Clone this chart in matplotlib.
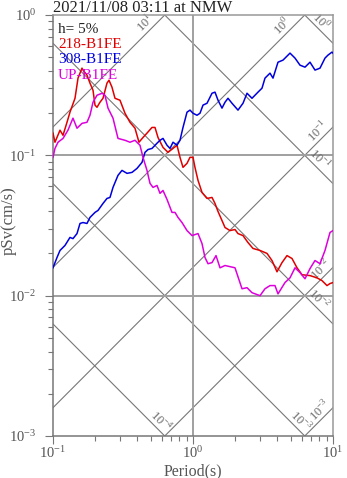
import numpy as np
import matplotlib
matplotlib.use('Agg')
import matplotlib.pyplot as plt

plt.rcParams['font.family'] = 'serif'
plt.rcParams['font.serif'] = ['Liberation Serif', 'DejaVu Serif']
plt.rcParams['mathtext.fontset'] = 'custom'
plt.rcParams['mathtext.rm'] = 'Liberation Serif'

TITLE = '2021/11/08 03:11 at NMW'
DAMPING = 'h= 5%'
NAMES = ['218-B1FE', '308-B1FE', 'UP-B1FE']
COLORS = ['#e00000', '#0000dd', '#dd00dd']

# 218-B1FE
t_218 = [0.100, 0.1033, 0.1122, 0.1179, 0.1259, 0.1322, 0.1436, 0.1509, 0.1611, 0.1638,
         0.1749, 0.1837, 0.1931, 0.1995, 0.2062, 0.2166, 0.2276, 0.2430, 0.2512, 0.2638,
         0.2772, 0.3010, 0.3267, 0.3548, 0.3852, 0.4113, 0.4393, 0.4692, 0.5094, 0.5353,
         0.5623, 0.6105, 0.6629, 0.7197, 0.7686, 0.8074, 0.8483, 0.9061, 0.9519, 1.000,
         1.033, 1.086, 1.160, 1.259, 1.367, 1.436, 1.509, 1.611, 1.693, 1.838,
         1.995, 2.096, 2.276, 2.471, 2.683, 3.010, 3.378, 3.667, 3.981, 4.322,
         4.693, 5.095, 5.533, 6.005, 6.851, 7.688, 8.346, 9.061, 9.519, 10.0]
sv_218 = [0.144, 0.124, 0.151, 0.139, 0.172, 0.203, 0.255, 0.355, 0.418, 0.405,
          0.373, 0.327, 0.291, 0.228, 0.220, 0.239, 0.255, 0.327, 0.343, 0.306,
          0.255, 0.247, 0.1995, 0.172, 0.156, 0.124, 0.134, 0.144, 0.158, 0.158,
          0.134, 0.114, 0.105, 0.112, 0.118, 0.0968, 0.0821, 0.0877, 0.0968, 0.0968,
          0.0821, 0.0663, 0.0544, 0.0493, 0.0501, 0.0454, 0.0398, 0.0343, 0.0306, 0.0291,
          0.0296, 0.0277, 0.0268, 0.0239, 0.0217, 0.0210, 0.0200, 0.0178, 0.0148, 0.0172,
          0.0193, 0.0184, 0.0158, 0.0141, 0.0139, 0.0134, 0.0128, 0.0118, 0.0122, 0.0124]

# 308-B1FE
t_308 = [0.100, 0.1068, 0.1122, 0.1218, 0.1322, 0.1389, 0.1484, 0.1559, 0.1638, 0.1749,
         0.1837, 0.1995, 0.2097, 0.2276, 0.2430, 0.2553, 0.2683, 0.2912, 0.3110, 0.3378,
         0.3667, 0.3981, 0.4322, 0.4540, 0.4772, 0.5094, 0.5533, 0.5811, 0.6105, 0.6522,
         0.6851, 0.7197, 0.7686, 0.8074, 0.8483, 0.9061, 0.9519, 1.000, 1.068, 1.122,
         1.179, 1.259, 1.367, 1.436, 1.509, 1.611, 1.693, 1.778, 1.899, 2.096,
         2.276, 2.431, 2.639, 2.912, 3.111, 3.268, 3.548, 3.728, 4.047, 4.394,
         4.931, 5.353, 5.811, 6.310, 6.851, 7.437, 8.074, 8.767, 9.211, 9.837, 10.0]
sv_308 = [0.0158, 0.0187, 0.0210, 0.0228, 0.0260, 0.0255, 0.0277, 0.0327, 0.0332, 0.0327,
          0.0361, 0.0392, 0.0405, 0.0454, 0.0493, 0.0501, 0.0591, 0.0720, 0.0781, 0.0744,
          0.0756, 0.0807, 0.0891, 0.105, 0.110, 0.112, 0.122, 0.128, 0.132, 0.118,
          0.112, 0.124, 0.118, 0.128, 0.158, 0.203, 0.210, 0.1995, 0.193, 0.1995,
          0.228, 0.235, 0.277, 0.282, 0.247, 0.217, 0.239, 0.255, 0.235, 0.210,
          0.235, 0.277, 0.255, 0.282, 0.301, 0.355, 0.385, 0.355, 0.461, 0.477,
          0.535, 0.493, 0.439, 0.425, 0.461, 0.405, 0.418, 0.493, 0.518, 0.544, 0.535]

# UP-B1FE
t_up = [0.100, 0.1033, 0.1086, 0.1179, 0.1279, 0.1389, 0.1484, 0.1611, 0.1749, 0.1837,
        0.1931, 0.2062, 0.2239, 0.2350, 0.2471, 0.2683, 0.2912, 0.3267, 0.3548, 0.3852,
        0.4182, 0.4393, 0.4692, 0.4931, 0.5179, 0.5533, 0.5811, 0.6105, 0.6522, 0.7079,
        0.7437, 0.7814, 0.8347, 0.9061, 0.9837, 1.086, 1.160, 1.218, 1.280, 1.367,
        1.460, 1.559, 1.693, 1.838, 1.995, 2.239, 2.431, 2.639, 3.010, 3.268,
        3.548, 3.852, 4.047, 4.540, 4.931, 5.353, 5.811, 6.310, 6.851, 7.437,
        8.074, 8.767, 9.519, 10.0]
sv_up = [0.0968, 0.112, 0.124, 0.132, 0.151, 0.184, 0.156, 0.169, 0.172, 0.193,
         0.239, 0.268, 0.277, 0.268, 0.217, 0.184, 0.132, 0.128, 0.124, 0.128,
         0.118, 0.0968, 0.0781, 0.0631, 0.0591, 0.0610, 0.0536, 0.0562, 0.0485, 0.0392,
         0.0392, 0.0361, 0.0332, 0.0291, 0.0268, 0.0277, 0.0235, 0.0187, 0.0169, 0.0172,
         0.0193, 0.0158, 0.0164, 0.0161, 0.0158, 0.0112, 0.0114, 0.0105, 0.0100, 0.0112,
         0.0118, 0.0118, 0.0103, 0.0124, 0.0134, 0.0158, 0.0146, 0.0132, 0.0156, 0.0178,
         0.0169, 0.0210, 0.0282, 0.0291]

# tripartite grid: constant acceleration (cm/s^2) and displacement (cm)
acc_levels = [1e-4, 1e-3, 1e-2, 1e-1, 1e0, 1e1, 1e2]
disp_levels = [1e-5, 1e-4, 1e-3, 1e-2, 1e-1, 1e0, 1e1]
# (level, period where its label sits)
acc_labels = [(1e1, 0.461), (1e0, 4.39), (1e-1, 7.81), (1e-2, 8.21), (1e-3, 8.08)]
disp_labels = [(1e0, 8.21), (1e-1, 7.95), (1e-2, 7.81), (1e-3, 5.81), (1e-4, 0.581)]

fig = plt.figure(figsize=(3.47, 4.78), dpi=100)
ax = fig.add_axes([53/347, 1-436/478, 280/347, 421/478])
ax.set_xscale('log')
ax.set_yscale('log')
ax.set_xlim(0.1, 10)
ax.set_ylim(1e-3, 1)

T = np.array([0.1, 10.0])
for a in acc_levels:
    ax.plot(T, a*T/(2*np.pi), color='#777777', lw=0.8, zorder=1)
for d in disp_levels:
    ax.plot(T, 2*np.pi*d/T, color='#777777', lw=0.8, zorder=1)

for v, t in acc_labels:
    ax.text(t, 1.18*v*t/(2*np.pi), '10$^{%d}$' % round(np.log10(v)), rotation=45,
            ha='center', va='center', fontsize=9, color='#666666',
            rotation_mode='anchor', zorder=2)
for v, t in disp_labels:
    ax.text(t, 1.18*2*np.pi*v/t, '10$^{%d}$' % round(np.log10(v)), rotation=-45,
            ha='center', va='center', fontsize=9, color='#666666',
            rotation_mode='anchor', zorder=2)

ax.axvline(1.0, color='#a0a0a0', lw=1.4, zorder=1)
for yv in [1e-1, 1e-2]:
    ax.axhline(yv, color='#a0a0a0', lw=1.4, zorder=1)

for t, sv, c in zip([t_218, t_308, t_up], [sv_218, sv_308, sv_up], COLORS):
    ax.plot(t, sv, color=c, lw=1.1, zorder=3)

ax.text(0.018, 0.957, DAMPING, transform=ax.transAxes, fontsize=11,
        color='#222222', va='baseline')
for i, (name, c) in enumerate(zip(NAMES, COLORS)):
    ax.text(0.018, 0.921 - i*0.036, name, transform=ax.transAxes, fontsize=11,
            color=c, va='baseline')

for s in ['left', 'bottom']:
    ax.spines[s].set_color('#777777')
for s in ['top', 'right']:
    ax.spines[s].set_color('#999999')
for s in ax.spines.values():
    s.set_linewidth(1.1)

ax.tick_params(which='major', length=6, width=0.8, color='#777777',
               labelcolor='#555555', labelsize=10.5)
ax.tick_params(axis='x', which='major', pad=0.5)
ax.tick_params(axis='y', which='major', pad=6)
ax.tick_params(which='minor', length=3.5, width=0.8, color='#777777')
ax.tick_params(top=False, right=False, which='both')

fig.text(193/347, 1-475/478, 'Period(s)', fontsize=11.5, color='#555555',
         ha='center', va='baseline')
fig.text(9/347, 1-221/478, 'pSv(cm/s)', fontsize=12, color='#555555',
         ha='center', va='center', rotation=90)

fig.text(53/347, 1-12/478, TITLE, fontsize=12, color='#222222', va='baseline')

fig.savefig('out.png', dpi=100)
